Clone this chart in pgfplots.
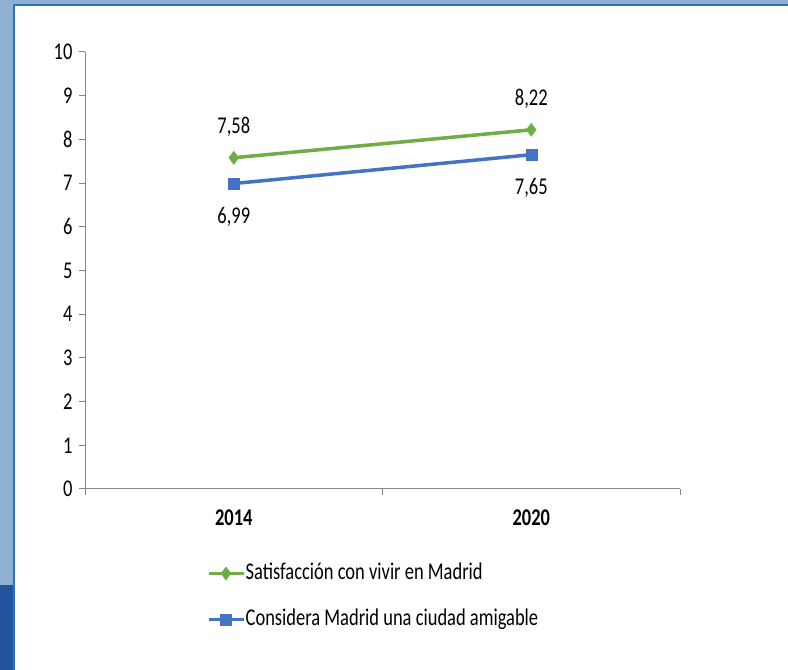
\documentclass[border=0pt]{standalone}
\usepackage{pgfplots}
\pgfplotsset{compat=1.18}
\usepackage{fontspec}
\setmainfont{Carlito}[FakeStretch=0.77]
\definecolor{bgblue}{HTML}{8FB0D2}
\definecolor{bgdark}{HTML}{2354A0}
\definecolor{border}{HTML}{2E75B6}
\definecolor{sgreen}{HTML}{70AD47}
\definecolor{sblue}{HTML}{4472C4}
\definecolor{axgray}{HTML}{868686}
\begin{document}
\begin{tikzpicture}[x=1pt,y=1pt]
\useasboundingbox (0,0) rectangle (788,670);
\fill[bgblue] (0,0) rectangle (788,670);
\fill[bgdark] (0,0) rectangle (14,85);
\fill[white] (14,0) rectangle (788,665);
\draw[border, line width=2pt] (14,0) -- (14,665) -- (788,665);
\begin{axis}[
  at={(85pt,181pt)}, anchor=south west,
  scale only axis, width=595pt, height=437pt,
  xmin=-0.5, xmax=1.5, ymin=0, ymax=10,
  axis x line=bottom, axis y line=left,
  axis line style={-, axgray, line width=1pt},
  xtick={0,1}, xticklabels={2014,2020},
  minor xtick={-0.5,0.5,1.5},
  ytick={0,1,...,10},
  tick style={axgray, line width=1pt},
  major tick length=6pt, minor tick length=6pt,
  tick align=outside,
  x tick style={draw=none},
  minor x tick style={axgray, line width=1pt, draw=axgray},
  font=\fontsize{24}{28}\selectfont,
  ticklabel style={font=\fontsize{24}{28}\selectfont},
  xticklabel style={font=\fontsize{24}{28}\selectfont\bfseries, yshift=-11pt},
  yticklabel style={xshift=-3pt},
  /pgf/number format/assume math mode=true,
  legend style={at={(axis description cs:0.205,-0.169)}, anchor=north west,
    draw=none, fill=none, inner sep=0pt, row sep=25pt,
    nodes={inner sep=0pt, text height=16pt, text depth=5pt, anchor=west},
    font=\fontsize{24}{28}\selectfont},
  legend cell align=left,
  legend image code/.code={\draw[mark repeat=2,mark phase=2,#1] plot coordinates {(0pt,0pt) (17pt,0pt) (35pt,0pt)};},
  every axis legend/.append style={/tikz/every even column/.append style={column sep=3pt}},
  clip=false,
  point meta=explicit symbolic,
  nodes near coords,
]
\addplot[sgreen, line width=3.5pt, mark=diamond*, mark size=6.5pt, mark options={solid, fill=sgreen, line width=0.5pt},
  every node near coord/.append style={anchor=center, yshift=31pt, text=black, font=\fontsize{24}{28}\selectfont}]
  coordinates {(0,7.58) [7,58] (1,8.22) [8,22]};
\addlegendentry{Satisfacción con vivir en Madrid}
\addplot[sblue, line width=3.5pt, mark=square*, mark size=5.5pt, mark options={solid, fill=sblue, line width=0.5pt},
  every node near coord/.append style={anchor=center, yshift=-33pt, text=black, font=\fontsize{24}{28}\selectfont}]
  coordinates {(0,6.99) [6,99] (1,7.65) [7,65]};
\addlegendentry{Considera Madrid una ciudad amigable}
\end{axis}
\end{tikzpicture}
\end{document}
